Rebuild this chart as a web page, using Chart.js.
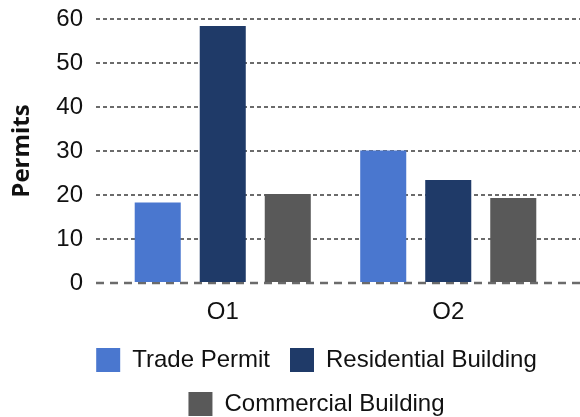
<!DOCTYPE html>
<html>
<head>
<meta charset="utf-8">
<script src="https://cdn.jsdelivr.net/npm/chart.js@4"></script>
<style>
  html, body { margin: 0; padding: 0; background: #fff; }
  #wrap { width: 580px; height: 417px; }
</style>
</head>
<body>
<div id="wrap"><canvas id="permitsChart"></canvas></div>
<script>
const quarters = ["Q1", "Q2"];
const tradePermit = [18.3, 30.1];
const residentialBuilding = [58.4, 23.4];
const commercialBuilding = [20.2, 19.3];
const yTicks = [0, 10, 20, 30, 40, 50, 60];

const COLORS = {
  trade: "#4a77cf",
  residential: "#1f3a68",
  commercial: "#595959",
  grid: "#6b6b6b",
};

const FONT = "'Liberation Sans', Arial, sans-serif";
const GRID_W = 2;

// dashed grid lines run to the right edge, zero line is heavier
const gridExtras = {
  id: "gridExtras",
  beforeDatasetsDraw(chart) {
    const { ctx, chartArea, width } = chart;
    const y = chart.scales.y;
    ctx.save();
    ctx.strokeStyle = COLORS.grid;
    yTicks.forEach((v) => {
      const py = Math.round(y.getPixelForValue(v) - GRID_W / 2) + GRID_W / 2;
      ctx.beginPath();
      if (v === 0) {
        ctx.lineWidth = 2.4;
        ctx.setLineDash([8, 6]);
        ctx.lineDashOffset = 0;
        ctx.moveTo(chartArea.left - 14, py);
      } else {
        ctx.lineWidth = GRID_W;
        ctx.setLineDash([4, 3]);
        ctx.lineDashOffset = (chartArea.right - chartArea.left) % 7;
        ctx.moveTo(chartArea.right, py);
      }
      ctx.lineTo(width, py);
      ctx.stroke();
    });
    ctx.restore();
  },
};

// legend sits a bit right of the canvas centre and lower
const legendShift = {
  id: "legendShift",
  afterLayout(chart) {
    const lg = chart.legend;
    lg.left += 36;
    lg.right += 36;
    lg.top += 9;
    lg.bottom += 9;
  },
};

new Chart(document.getElementById("permitsChart"), {
  type: "bar",
  data: {
    labels: quarters,
    datasets: [
      { label: "Trade Permit", data: tradePermit, backgroundColor: COLORS.trade },
      { label: "Residential Building", data: residentialBuilding, backgroundColor: COLORS.residential },
      { label: "Commercial Building", data: commercialBuilding, backgroundColor: COLORS.commercial },
    ],
  },
  options: {
    responsive: true,
    maintainAspectRatio: false,
    animation: false,
    layout: { autoPadding: false, padding: { top: 19, right: 19, left: 0, bottom: 0 } },
    datasets: { bar: { categoryPercentage: 0.865, barPercentage: 0.708 } },
    plugins: {
      tooltip: { enabled: false },
      legend: {
        position: "bottom",
        labels: {
          boxWidth: 24,
          boxHeight: 24,
          padding: 20,
          color: "#111",
          font: { family: FONT, size: 24 },
        },
      },
    },
    scales: {
      x: {
        afterFit: (s) => { s.height = 36; s.paddingLeft = 0; s.paddingRight = 0; },
        grid: { display: false, drawTicks: false },
        border: { display: false },
        ticks: { color: "#111", padding: 15, font: { family: FONT, size: 24 } },
      },
      y: {
        min: 0,
        max: 60,
        afterFit: (s) => { s.width = 110; s.paddingTop = 0; s.paddingBottom = 0; },
        afterBuildTicks: (s) => { s.ticks = yTicks.map((v) => ({ value: v })); },
        grid: {
          color: (c) => (c.tick && c.tick.value === 0 ? "rgba(0,0,0,0)" : COLORS.grid),
          lineWidth: GRID_W,
          drawTicks: true,
          tickLength: 14,
          tickBorderDash: [4, 3],
          tickColor: (c) => (c.tick && c.tick.value === 0 ? "rgba(0,0,0,0)" : COLORS.grid),
        },
        border: { display: false, dash: [4, 3] },
        ticks: { color: "#111", padding: 13, font: { family: FONT, size: 24 } },
        title: {
          display: true,
          text: "Permits",
          color: "#111",
          padding: { top: 8, bottom: 0 },
          font: { family: "'Open Sans', sans-serif", size: 24, weight: "bold" },
        },
      },
    },
  },
  plugins: [gridExtras, legendShift],
});
</script>
</body>
</html>
